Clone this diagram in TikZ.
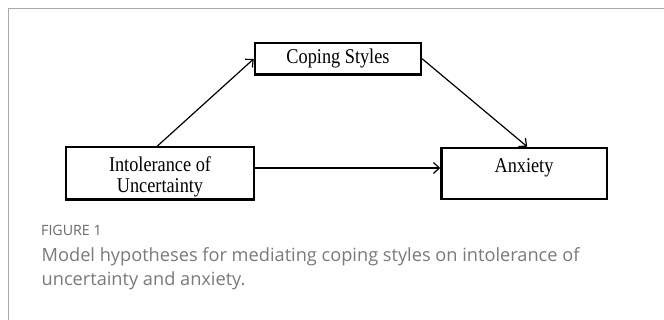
\documentclass[tikz,border=0pt]{standalone}
\usepackage{fontspec}
\setmainfont{Liberation Serif}[FakeStretch=0.87]
\newfontfamily\capfont{Open Sans}
\usetikzlibrary{arrows.meta,calc}
\definecolor{framegray}{HTML}{A8A8A8}
\definecolor{capgray}{HTML}{7A7A7A}
\definecolor{figgray}{HTML}{6A6A6A}
\begin{document}
\begin{tikzpicture}[x=1pt,y=-1pt,
  box/.style={draw=black,line width=2.4pt,inner sep=0pt,font=\fontsize{21}{21}\selectfont},
  conn/.style={line width=1.2pt,-{Straight Barb[length=6pt,width=11pt,line width=1.2pt]}},
  captext/.style={anchor=base west,inner sep=0pt,text=capgray,font=\capfont\fontsize{18.2}{20}\selectfont}]
\useasboundingbox (0,0) rectangle (664,320);
\fill[white] (0,0) rectangle (664,320);
\draw[framegray,line width=1.3pt] (8.3,320) -- (8.3,8.3) -- (664,8.3);
% boxes (centre line inset by half the line width)
\node[box,minimum width=166pt,minimum height=31.5pt] (cop) at (338,58.8) {Coping Styles};
\node[box,minimum width=188pt,minimum height=52.5pt] (iou) at (160,173.4) {};
\node[inner sep=0pt,align=center,font=\fontsize{21}{21}\selectfont] (ioutxt) at (160,176.5) {Intolerance of\\Uncertainty};
\node[box,minimum width=165.5pt,minimum height=51pt] (anx) at (524.2,173.4) {};
\node[inner sep=0pt,font=\fontsize{21}{21}\selectfont] (anxt) at (524,167.5) {Anxiety};
% connectors
\draw[conn] ([xshift=-2.5pt]iou.north) -- (cop.west);
\draw[conn] (cop.east) -- ([xshift=3pt]anx.north);
\draw[conn] ([yshift=5.4pt]iou.east) -- ([yshift=5.4pt]anx.west);
% caption
\node[anchor=base west,inner sep=0pt,text=figgray,font=\capfont\fontsize{14.2}{16}\selectfont] (fig) at (41,235.5) {FIGURE 1};
\node[captext] (cap1) at (41.5,262) {Model hypotheses for mediating coping styles on intolerance of};
\node[captext] (cap2) at (41.5,286) {uncertainty and anxiety.};
\end{tikzpicture}
\end{document}
